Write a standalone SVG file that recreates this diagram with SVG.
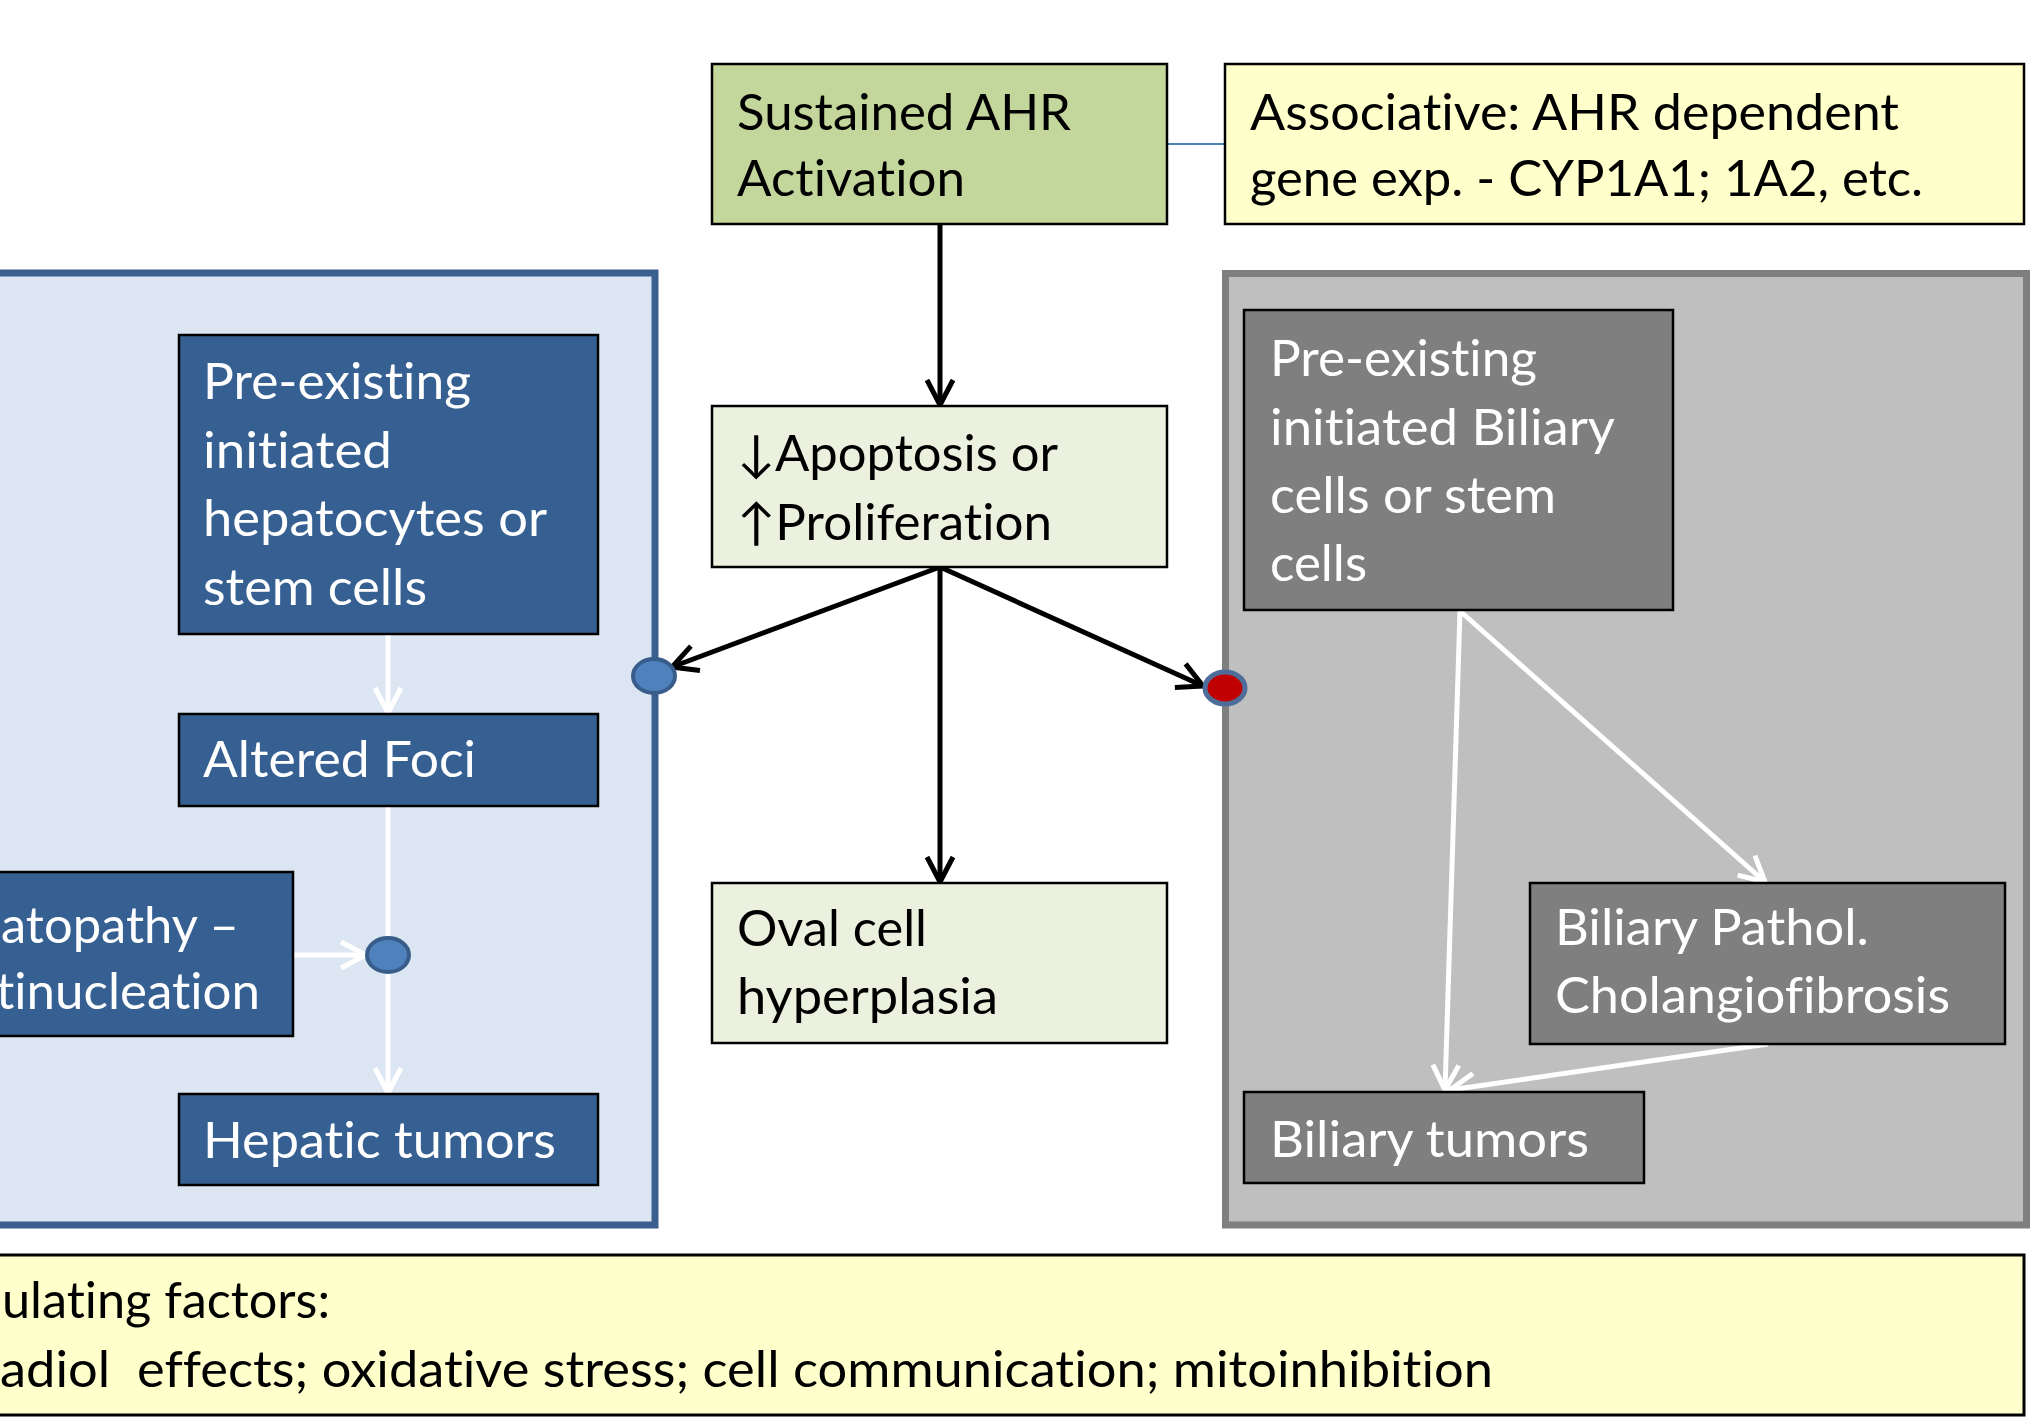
<svg xmlns="http://www.w3.org/2000/svg" width="2042" height="1417" viewBox="0 0 2042 1417">
<style>
text{font-family:Lato,"Liberation Sans",Arial,sans-serif;font-size:50px;font-variant-ligatures:none;font-feature-settings:"liga" 0,"clig" 0;}
.dk{fill:#000000;}
.wt{fill:#FFFFFF;}
.box{stroke:#000000;stroke-width:2.5;}
.green{fill:#C3D69B;}
.yel{fill:#FFFFCC;}
.pale{fill:#EBF1DE;}
.blue{fill:#376092;}
.grey{fill:#7F7F7F;}
.bk{fill:none;stroke:#000000;stroke-width:5;}
.wl{fill:none;stroke:#FFFFFF;stroke-width:5;}
.jb{fill:#4F81BD;stroke:#385D8A;stroke-width:4;}
.jr{fill:#C00000;stroke:#4F6D9A;stroke-width:5;}
</style>
<defs>
<marker id="ab" markerUnits="userSpaceOnUse" markerWidth="40" markerHeight="40" refX="30" refY="16" orient="auto" overflow="visible">
<path d="M5,3 L30,16 L5,29" fill="none" stroke="#000000" stroke-width="5"/>
</marker>
<marker id="aw" markerUnits="userSpaceOnUse" markerWidth="40" markerHeight="40" refX="30" refY="16" orient="auto" overflow="visible">
<path d="M5,3 L30,16 L5,29" fill="none" stroke="#FFFFFF" stroke-width="5"/>
</marker>
</defs>
<rect x="0" y="0" width="2042" height="1417" fill="#FFFFFF"/>

<g id="panel-hepatic">
<rect x="-10" y="273" width="665" height="952" fill="#DCE6F2" stroke="#3B6090" stroke-width="7"/>
</g>
<g id="panel-biliary">
<rect x="1225.5" y="273.5" width="801" height="951.5" fill="#BFBFBF" stroke="#7F7F7F" stroke-width="7"/>
</g>

<g id="connectors">
<line x1="1167" y1="144" x2="1225" y2="144" stroke="#4F81BD" stroke-width="2"/>
<line class="bk" x1="940" y1="224" x2="940" y2="405" marker-end="url(#ab)"/>
<line class="bk" x1="940" y1="567" x2="672" y2="667" marker-end="url(#ab)"/>
<line class="bk" x1="940" y1="567" x2="940" y2="882" marker-end="url(#ab)"/>
<line class="bk" x1="940" y1="567" x2="1203" y2="686" marker-end="url(#ab)"/>
<line class="wl" x1="388" y1="634" x2="388" y2="713" marker-end="url(#aw)"/>
<line class="wl" x1="388" y1="806" x2="388" y2="940"/>
<line class="wl" x1="388" y1="970" x2="388" y2="1093" marker-end="url(#aw)"/>
<line class="wl" x1="293" y1="955" x2="366" y2="955" marker-end="url(#aw)"/>
<line class="wl" x1="1460" y1="611" x2="1765" y2="882" marker-end="url(#aw)"/>
<line class="wl" x1="1460" y1="611" x2="1445" y2="1090" marker-end="url(#aw)"/>
<line class="wl" x1="1768" y1="1044" x2="1450" y2="1090" marker-end="url(#aw)"/>
</g>

<g id="node-sustained">
<rect class="box green" x="712" y="64" width="455" height="160"/>
<text class="dk" x="737" y="130" textLength="334" lengthAdjust="spacingAndGlyphs">Sustained AHR</text>
<text class="dk" x="737" y="196" textLength="228" lengthAdjust="spacingAndGlyphs">Activation</text>
</g>
<g id="node-associative">
<rect class="box yel" x="1225" y="64" width="799" height="160"/>
<text class="dk" x="1250" y="130" textLength="649" lengthAdjust="spacingAndGlyphs">Associative: AHR dependent</text>
<text class="dk" x="1250" y="196" textLength="673" lengthAdjust="spacingAndGlyphs">gene exp. - CYP1A1; 1A2, etc.</text>
</g>
<g id="node-apoptosis">
<rect class="box pale" x="712" y="406" width="455" height="161"/>
<text class="dk" x="737" y="471" textLength="321" lengthAdjust="spacingAndGlyphs">↓Apoptosis or</text>
<text class="dk" x="737" y="540" textLength="315" lengthAdjust="spacingAndGlyphs">↑Proliferation</text>
</g>
<g id="node-oval">
<rect class="box pale" x="712" y="883" width="455" height="160"/>
<text class="dk" x="737" y="946" textLength="190" lengthAdjust="spacingAndGlyphs">Oval cell</text>
<text class="dk" x="737" y="1014" textLength="261" lengthAdjust="spacingAndGlyphs">hyperplasia</text>
</g>

<g id="node-preexisting-hep">
<rect class="box blue" x="179" y="335" width="419" height="299"/>
<text class="wt" x="203" y="399" textLength="268" lengthAdjust="spacingAndGlyphs">Pre-existing</text>
<text class="wt" x="203" y="468" textLength="189" lengthAdjust="spacingAndGlyphs">initiated</text>
<text class="wt" x="203" y="536" textLength="344" lengthAdjust="spacingAndGlyphs">hepatocytes or</text>
<text class="wt" x="203" y="605" textLength="224" lengthAdjust="spacingAndGlyphs">stem cells</text>
</g>
<g id="node-altered-foci">
<rect class="box blue" x="179" y="714" width="419" height="92"/>
<text class="wt" x="203" y="777" textLength="273" lengthAdjust="spacingAndGlyphs">Altered Foci</text>
</g>
<g id="node-hepatopathy">
<rect class="box blue" x="-10" y="872" width="303" height="164"/>
<text class="wt" x="1" y="943" textLength="238" lengthAdjust="spacingAndGlyphs">atopathy –</text>
<text class="wt" x="-4" y="1009" textLength="264" lengthAdjust="spacingAndGlyphs">tinucleation</text>
</g>
<g id="node-hepatic-tumors">
<rect class="box blue" x="179" y="1094" width="419" height="91"/>
<text class="wt" x="203" y="1158" textLength="353" lengthAdjust="spacingAndGlyphs">Hepatic tumors</text>
</g>

<g id="node-preexisting-bil">
<rect class="box grey" x="1244" y="310" width="429" height="300"/>
<text class="wt" x="1270" y="376" textLength="267" lengthAdjust="spacingAndGlyphs">Pre-existing</text>
<text class="wt" x="1270" y="445" textLength="345" lengthAdjust="spacingAndGlyphs">initiated Biliary</text>
<text class="wt" x="1270" y="513" textLength="286" lengthAdjust="spacingAndGlyphs">cells or stem</text>
<text class="wt" x="1270" y="581" textLength="97" lengthAdjust="spacingAndGlyphs">cells</text>
</g>
<g id="node-biliary-pathol">
<rect class="box grey" x="1530" y="883" width="475" height="161"/>
<text class="wt" x="1555" y="945" textLength="314" lengthAdjust="spacingAndGlyphs">Biliary Pathol.</text>
<text class="wt" x="1555" y="1013" textLength="395" lengthAdjust="spacingAndGlyphs">Cholangiofibrosis</text>
</g>
<g id="node-biliary-tumors">
<rect class="box grey" x="1244" y="1092" width="400" height="91"/>
<text class="wt" x="1270" y="1157" textLength="319" lengthAdjust="spacingAndGlyphs">Biliary tumors</text>
</g>

<g id="junction-hep-border">
<ellipse class="jb" cx="654" cy="676" rx="21" ry="17"/>
</g>
<g id="junction-hep-inner">
<ellipse class="jb" cx="388" cy="955" rx="21" ry="17"/>
</g>
<g id="junction-bil-border">
<ellipse class="jr" cx="1225" cy="688" rx="20" ry="16"/>
</g>

<g id="node-modulating">
<rect x="-10" y="1255" width="2034" height="160" fill="#FFFFCC" stroke="#000000" stroke-width="3"/>
<text class="dk" x="2" y="1318" textLength="328" lengthAdjust="spacingAndGlyphs">ulating factors:</text>
<text class="dk" x="0" y="1387" textLength="1493" lengthAdjust="spacingAndGlyphs" xml:space="preserve">adiol  effects; oxidative stress; cell communication; mitoinhibition</text>
</g>
</svg>
